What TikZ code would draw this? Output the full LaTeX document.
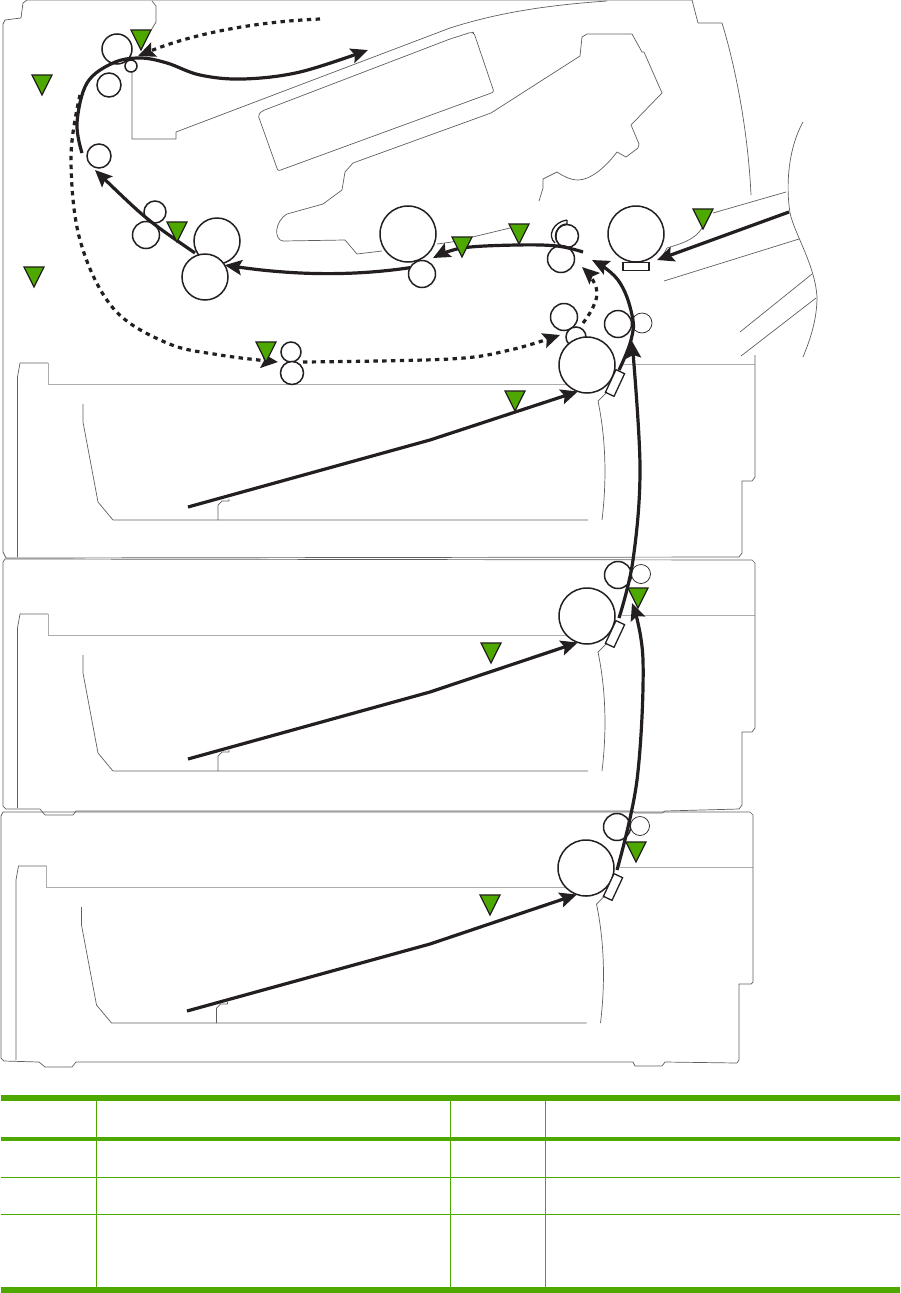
\documentclass[tikz,border=0pt]{standalone}
\usepackage{tikz}
\usetikzlibrary{arrows.meta,shapes.geometric}
\definecolor{inkblack}{HTML}{231F20}
\definecolor{hpgreen}{HTML}{4DA800}
\definecolor{casegray}{HTML}{5F5F5F}
\tikzset{
    casing/.style={draw=casegray,line width=0.7pt,line join=round},
    trayedge/.style={draw=gray!65,line width=1pt},
    roller/.style={circle,draw=inkblack,fill=white,line width=1.5pt,inner sep=0pt,outer sep=0pt},
    idler/.style={roller,line width=0.7pt},
    pad/.style={rectangle,draw=inkblack,fill=white,line width=1.3pt,inner sep=0pt,outer sep=0pt},
    feed/.style={draw=inkblack,line width=3.2pt,line join=round,-{Stealth[length=17pt,width=15pt,inset=3pt]}},
    duplex/.style={feed,dash pattern=on 4.4pt off 4.4pt},
    sensor/.style={isosceles triangle,isosceles triangle apex angle=53,shape border rotate=-90,
        anchor=apex,draw=inkblack,fill=hpgreen,line width=1.2pt,inner sep=0pt,outer sep=0pt,
        minimum height=20pt,minimum width=20pt},
    tablerule/.style={draw=hpgreen,line width=#1}
}
\begin{document}
\begin{tikzpicture}[x=1pt,y=-1pt]
    \useasboundingbox (0,0) rectangle (901,1293);
    % engine casing
    \draw[casing] (3,552) -- (3,24) -- (5,20) -- (21,18) -- (23,3) -- (27,0) -- (692,0) -- (698,23) -- (722,23)
        .. controls (735,65) and (748,130) .. (751,195);
    \draw[casing] (152,1) -- (156,6) -- (156,22) -- (150,32) -- (140,46);
    \draw[casing] (132,72) -- (132,139) -- (176,139) -- (176,132) -- (450,28)
        .. controls (500,12) and (550,5) .. (607,1);
    \draw[casing,rounded corners=2pt] (258,115) -- (262,111) -- (450,39) -- (472,32) -- (474,33) -- (494,92) -- (278,171) -- cycle;
    \draw[casing] (382,251) -- (357,254) -- (345,240) -- (283,241) .. controls (274,240) and (274,222) .. (287,214)
        -- (323,204) -- (342,190) -- (345,172) -- (353,163) -- (491,113) -- (580,56) -- (582,37) -- (587,34) -- (632,34)
        -- (642,52) -- (644,52) -- (662,93) -- (631,125) -- (639,144) -- (638,148) -- (626,157) -- (617,152)
        .. controls (605,168) and (590,180) .. (578,180) .. controls (570,180) and (563,176) .. (557,172)
        -- (543,179) -- (543,188) -- (539,201);
    \draw[casing] (437,244) -- (452,242) -- (510,228);
    \draw[casing] (702,228) .. controls (695,240) and (680,244) .. (667,248) -- (663,255);
    \draw[casing] (713,213) -- (786,192);
    \draw[casing] (799,239) -- (664,281);
    \draw[casing] (812,274) -- (740,332);
    \draw[casing] (816,298) -- (741,356);
    \draw[casing] (803,122) .. controls (790,145) and (785,180) .. (790,213)
        .. controls (795,235) and (815,265) .. (817,297) .. controls (817,320) and (810,340) .. (803,357);
    % trays
    \foreach \nm/\dx/\dy in {A/0/0,B/0/251,C/-1.5/503}{
        \begin{scope}[shift={(\dx,\dy)}]
            \draw[casing] (17.5,557) -- (17.5,377) -- (20,363) -- (48,363);
            \draw[trayedge] (48,363) -- (48,384) -- (582,384);
            \draw[casing] (83,404) -- (83,422) -- (98,502) -- (113,520) -- (588,520);
            \draw[casing] (218,520) -- (218,505) -- (222,501) -- (229,501) -- (229,499);
            \draw[casing] (606,393) -- (598,401) .. controls (604,430) and (608,470) .. (602,520);
        \end{scope}
    }
    \draw[trayedge] (623,364) -- (755,364);
    \draw[trayedge] (622,615) -- (755,615);
    \draw[trayedge] (620,867) -- (753,867);
    \draw[casing] (755,355) -- (755,477) -- (752,481) -- (742,481) -- (742,553) -- (739,557) -- (6,558) -- (3,552);
    \draw[casing] (3,562) -- (5,559) -- (752,560) -- (755,563) -- (755,728) -- (752,732) -- (742,732) -- (742,805)
        -- (739,809) -- (665,811) -- (662,813) -- (635,813) -- (633,811) -- (76,811) -- (73,815) -- (45,815) -- (40,809) -- (6,809) -- (3,806) -- cycle;
    \draw[casing] (1,816) -- (3,812) -- (750,812) -- (753,815) -- (753,982) -- (751,984) -- (739,984) -- (739,1060)
        -- (737,1063) -- (665,1062) -- (662,1066) -- (635,1066) -- (633,1062) -- (76,1062) -- (72,1067) -- (45,1067) -- (39,1062)
        -- (4,1061) -- (1,1058) -- cycle;
    % rollers
    \foreach \nm/\px/\py/\rad in {exitNip/117/49/15,exitIdler/131/66/6,exitLow/109/85/12,turnRoll/99/156/12,
        deliverTop/155/212/11,deliverLow/146/235/13.5,fuserBack/217/241/23,fuserFront/205/277/23,
        transferTop/408/234/28,transferLow/422/274/13.5,duplexTop/291/352/10,duplexLow/292/373/11.5,
        regTop/567/236/11.5,regLow/561/259/13.5,drumRoll/636/234/28,mergeTop/564/317/13.5,mergeLow/576/337/10,
        feedNip/618/324/13.5,pickA/587/365/28,pickB/587/616/28,feedNipB/618/575/13.5,pickC/586/868/28,feedNipC/617/827/13.5}{
        \node[roller,minimum size={2*\rad}] (\nm) at (\px,\py) {};
    }
    \foreach \nm/\px/\py/\rad in {feedIdler/642/323/10,feedIdlerB/641/574/9.5,feedIdlerC/640/826/9.5}{
        \node[idler,minimum size={2*\rad}] (\nm) at (\px,\py) {};
    }
    \node[pad,minimum width=26pt,minimum height=7.5pt] (laserPad) at (636,266.5) {};
    \foreach \nm/\px/\py in {padA/615/383,padB/615/634,padC/613/887}{
        \node[pad,minimum width=25pt,minimum height=9.5pt,rotate=65] (\nm) at (\px,\py) {};
    }
    \draw[inkblack,line width=1.3pt] (567,220) .. controls (553,222) and (547,236) .. (555,243);
    \draw[inkblack,line width=1.3pt] (567,220) -- (567,224) .. controls (558,224) and (554,234) .. (557,242);
    % paper paths
    \foreach \nm/\dy/\sx in {A/507/188,B/759/188,C/1011/187}{
        \coordinate (lift\nm) at (\sx,\dy);
        \draw[feed] (lift\nm) -- (430,\dy-67) -- (pick\nm.251);
    }
    \coordinate (trayAout) at (619,370);
    \coordinate (regIn) at (592,260);
    \coordinate (trayBout) at (619,618);
    \coordinate (trayBin) at (632,341);
    \coordinate (trayCout) at (617,870);
    \coordinate (trayCin) at (632,603);
    \coordinate (duplexEnd) at (320,19);
    \coordinate (exitTip) at (138,56);
    \coordinate (flipStart) at (80,95);
    \coordinate (duplexTip) at (278,362);
    \coordinate (exitOut) at (368,50);
    \coordinate (turnStart) at (82,153);
    \coordinate (fuserOut) at (195,253);
    \coordinate (turnIn) at (95,170);
    \coordinate (transferIn) at (433,258);
    \coordinate (regOut) at (583,252);
    \coordinate (manualIn) at (789,212);
    \coordinate (manualTip) at (657,260);
    \coordinate (duplexGap) at (303,362);
    \coordinate (mergeIn) at (560,335);
    \coordinate (loopStart) at (583,323);
    \coordinate (loopTip) at (582,267);
    \draw[duplex] (duplexEnd) .. controls (250,22) and (190,35) .. (exitTip);
    \draw[duplex] plot[smooth,tension=0.6] coordinates {(flipStart) (71,157) (80,240) (113,308) (167,343) (220,355) (duplexTip)};
    \draw[duplex] plot[smooth,tension=0.6] coordinates {(duplexGap) (450,359) (510,350) (mergeIn)};
    \draw[duplex] plot[smooth,tension=0.8] coordinates {(loopStart) (597,293) (loopTip)};
    \draw[feed] plot[smooth,tension=0.6] coordinates {(turnStart) (77,123) (87,83) (113,63) (140,58) (167,63) (200,75) (243,79) (300,72) (exitOut)};
    \draw[feed] (fuserOut) .. controls (147,220) .. (turnIn);
    \draw[feed] (transferLow.152) .. controls (340,278) and (280,273) .. (fuserFront.31);
    \draw[feed] plot[smooth,tension=0.6] coordinates {(regOut) (557,246) (517,245) (462,248) (transferIn)};
    \draw[feed] (manualIn) -- (manualTip);
    \draw[feed] plot[smooth,tension=0.7] coordinates {(trayAout) (631,340) (632,315) (618,280) (regIn)};
    \draw[feed] plot[smooth,tension=0.6] coordinates {(trayBout) (633,560) (640,467) (trayBin)};
    \draw[feed] plot[smooth,tension=0.6] coordinates {(trayCout) (637,780) (643,660) (trayCin)};
    % sensors
    \foreach \nm/\px/\py in {exitFlag/141/50,binFlag/42/95,flipFlag/34/287,fuserFlag/177/242,duplexFlag/266/362,
        regFlagA/462/257,regFlagB/519/244,manualFlag/703/229,trayFlagA/515/411,liftFlagB/638/608,
        trayFlagB/491/663,liftFlagC/636/862,trayFlagC/490/915}{
        \node[sensor] (\nm) at (\px,\py) {};
    }
    % table rules
    \draw[tablerule=5.6pt] (1,1097.8) -- (900,1097.8);
    \draw[tablerule=3.4pt] (1,1139) -- (900,1139);
    \draw[tablerule=1pt] (1,1177.5) -- (900,1177.5);
    \draw[tablerule=1pt] (1,1214.5) -- (900,1214.5);
    \draw[tablerule=5.4pt] (1,1290) -- (900,1290);
    \foreach \px in {96.5,450.5,545}{
        \draw[tablerule=1pt] (\px,1100) -- (\px,1288);
    }
\end{tikzpicture}
\end{document}
